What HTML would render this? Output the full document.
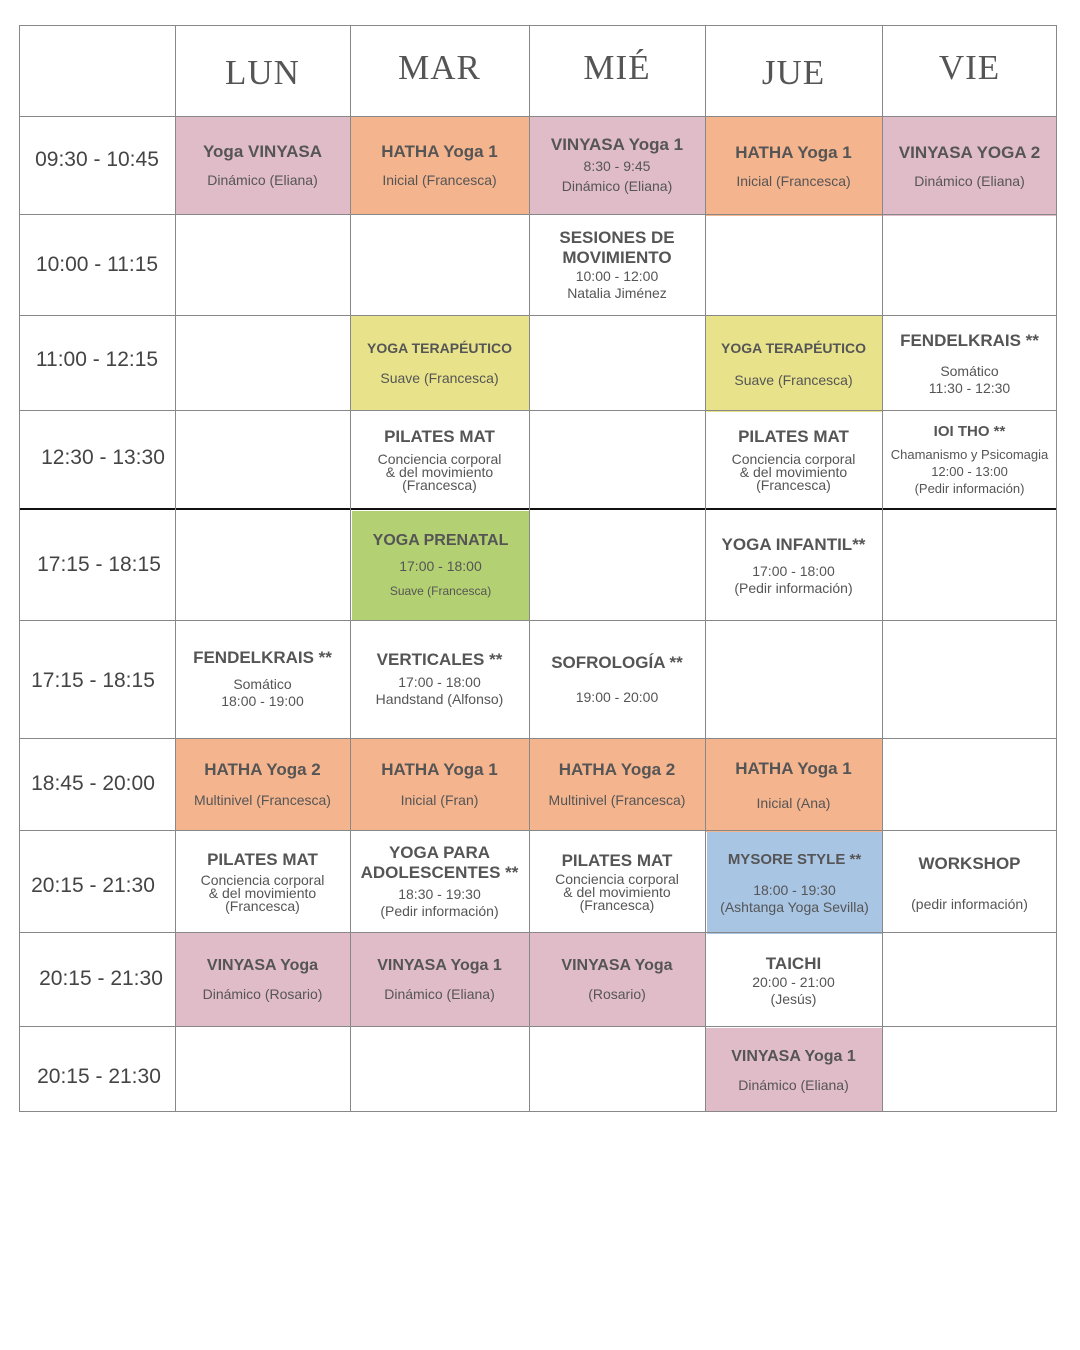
<!DOCTYPE html>
<html><head><meta charset="utf-8"><style>
body{margin:0;width:1080px;height:1350px;background:#fff;position:relative;font-family:"Liberation Sans",sans-serif;color:#555;overflow:hidden}
.c{position:absolute;display:flex;flex-direction:column;align-items:center;justify-content:center;text-align:center;box-sizing:border-box}
.h{font-family:"Liberation Serif",serif;font-size:35px;color:#555;letter-spacing:1px}
.t{font-size:21px;color:#444}
b{font-size:17px;color:#555;display:block;line-height:20px}
s{text-decoration:none;font-size:14px;display:block;line-height:17px}
.k{font-size:14px;line-height:13px;display:block}
.hl{position:absolute;left:19px;width:1038px;height:1px;background:#888}
.vl{position:absolute;top:25px;height:1087px;width:1px;background:#888}
.p{background:#e0bcc9}.o{background:#f4b48e}.y{background:#e8e38a}.g{background:#b3d072}.bl{background:#a9c5e4}
</style></head><body>
<div class="c p" style="left:175px;top:116px;width:175px;height:98px"><b>Yoga VINYASA</b><s style="margin-top:10px">Dinámico (Eliana)</s></div>
<div class="c o" style="left:350px;top:116px;width:179px;height:98px"><b>HATHA Yoga 1</b><s style="margin-top:10px">Inicial (Francesca)</s></div>
<div class="c p" style="left:529px;top:116px;width:176px;height:98px"><b>VINYASA Yoga 1</b><s style="margin-top:3px">8:30 - 9:45</s><s style="margin-top:3px">Dinámico (Eliana)</s></div>
<div class="c o" style="left:705px;top:116px;width:177px;height:100px"><b>HATHA Yoga 1</b><s style="margin-top:10px">Inicial (Francesca)</s></div>
<div class="c p" style="left:882px;top:116px;width:175px;height:100px"><b>VINYASA YOGA 2</b><s style="margin-top:10px">Dinámico (Eliana)</s></div>

<div class="c" style="left:529px;top:214px;width:176px;height:101px"><b>SESIONES DE<br>MOVIMIENTO</b><s>10:00 - 12:00</s><s>Natalia Jiménez</s></div>

<div class="c y" style="left:350px;top:315px;width:179px;height:95px"><b style="font-size:14px">YOGA TERAPÉUTICO</b><s style="margin-top:12px">Suave (Francesca)</s></div>
<div class="c y" style="left:705px;top:315px;width:177px;height:97px"><b style="font-size:14px">YOGA TERAPÉUTICO</b><s style="margin-top:14px">Suave (Francesca)</s></div>
<div class="c" style="left:882px;top:315px;width:175px;height:97px"><b>FENDELKRAIS **</b><s style="margin-top:12px">Somático</s><s>11:30 - 12:30</s></div>

<div class="c" style="left:350px;top:410px;width:179px;height:99px"><b>PILATES MAT</b><span class="k" style="margin-top:6px">Conciencia corporal<br>&amp; del movimiento<br>(Francesca)</span></div>
<div class="c" style="left:705px;top:410px;width:177px;height:99px"><b>PILATES MAT</b><span class="k" style="margin-top:6px">Conciencia corporal<br>&amp; del movimiento<br>(Francesca)</span></div>
<div class="c" style="left:882px;top:410px;width:175px;height:99px"><b style="font-size:15px">IOI THO **</b><s style="font-size:13px;margin-top:4px">Chamanismo y Psicomagia</s><s style="font-size:13px">12:00 - 13:00</s><s style="font-size:13px">(Pedir información)</s></div>

<div class="c g" style="left:352px;top:511px;width:177px;height:109px"><b style="font-size:16px">YOGA PRENATAL</b><s style="margin-top:7px">17:00 - 18:00</s><s style="font-size:12px;margin-top:8px">Suave (Francesca)</s></div>
<div class="c" style="left:705px;top:511px;width:177px;height:109px"><b>YOGA INFANTIL**</b><s style="margin-top:8px">17:00 - 18:00</s><s>(Pedir información)</s></div>

<div class="c" style="left:175px;top:620px;width:175px;height:118px"><b>FENDELKRAIS **</b><s style="margin-top:8px">Somático</s><s>18:00 - 19:00</s></div>
<div class="c" style="left:350px;top:620px;width:179px;height:118px"><b>VERTICALES **</b><s style="margin-top:4px">17:00 - 18:00</s><s>Handstand (Alfonso)</s></div>
<div class="c" style="left:529px;top:620px;width:176px;height:118px"><b>SOFROLOGÍA **</b><s style="margin-top:16px">19:00 - 20:00</s></div>

<div class="c o" style="left:175px;top:738px;width:175px;height:92px"><b>HATHA Yoga 2</b><s style="margin-top:12px">Multinivel (Francesca)</s></div>
<div class="c o" style="left:350px;top:738px;width:179px;height:92px"><b>HATHA Yoga 1</b><s style="margin-top:12px">Inicial (Fran)</s></div>
<div class="c o" style="left:529px;top:738px;width:176px;height:92px"><b>HATHA Yoga 2</b><s style="margin-top:12px">Multinivel (Francesca)</s></div>
<div class="c o" style="left:705px;top:738px;width:177px;height:94px"><b>HATHA Yoga 1</b><s style="margin-top:16px">Inicial (Ana)</s></div>

<div class="c" style="left:175px;top:830px;width:175px;height:102px"><b>PILATES MAT</b><span class="k" style="margin-top:4px">Conciencia corporal<br>&amp; del movimiento<br>(Francesca)</span></div>
<div class="c" style="left:350px;top:830px;width:179px;height:102px"><b>YOGA PARA<br>ADOLESCENTES **</b><s style="margin-top:3px">18:30 - 19:30</s><s>(Pedir información)</s></div>
<div class="c" style="left:529px;top:830px;width:176px;height:102px"><b>PILATES MAT</b><span class="k" style="margin-top:2px">Conciencia corporal<br>&amp; del movimiento<br>(Francesca)</span></div>
<div class="c bl" style="left:707px;top:832px;width:175px;height:102px"><b style="font-size:15px">MYSORE STYLE **</b><s style="margin-top:12px">18:00 - 19:30</s><s>(Ashtanga Yoga Sevilla)</s></div>
<div class="c" style="left:882px;top:832px;width:175px;height:102px"><b>WORKSHOP</b><s style="margin-top:22px">(pedir información)</s></div>

<div class="c p" style="left:175px;top:932px;width:175px;height:94px"><b style="font-size:16px">VINYASA Yoga</b><s style="margin-top:10px">Dinámico (Rosario)</s></div>
<div class="c p" style="left:350px;top:932px;width:179px;height:94px"><b style="font-size:16px">VINYASA Yoga 1</b><s style="margin-top:10px">Dinámico (Eliana)</s></div>
<div class="c p" style="left:529px;top:932px;width:176px;height:94px"><b style="font-size:16px">VINYASA Yoga</b><s style="margin-top:10px">(Rosario)</s></div>
<div class="c" style="left:705px;top:934px;width:177px;height:94px"><b>TAICHI</b><s>20:00 - 21:00</s><s>(Jesús)</s></div>

<div class="c p" style="left:705px;top:1028px;width:177px;height:84px"><b style="font-size:16px">VINYASA Yoga 1</b><s style="margin-top:10px">Dinámico (Eliana)</s></div>

<div class="c h" style="left:175px;top:25px;width:175px;height:91px;padding-top:4px">LUN</div>
<div class="c h" style="left:350px;top:25px;width:179px;height:85px">MAR</div>
<div class="c h" style="left:529px;top:25px;width:176px;height:85px">MIÉ</div>
<div class="c h" style="left:705px;top:25px;width:177px;height:91px;padding-top:4px">JUE</div>
<div class="c h" style="left:882px;top:25px;width:175px;height:85px">VIE</div>

<div class="c t" style="left:19px;top:116px;width:156px;height:88px">09:30 - 10:45</div>
<div class="c t" style="left:19px;top:214px;width:156px;height:101px">10:00 - 11:15</div>
<div class="c t" style="left:19px;top:315px;width:156px;height:90px">11:00 - 12:15</div>
<div class="c t" style="left:25px;top:410px;width:156px;height:96px">12:30 - 13:30</div>
<div class="c t" style="left:19px;top:509px;width:160px;height:111px">17:15 - 18:15</div>
<div class="c t" style="left:15px;top:620px;width:156px;height:122px">17:15 - 18:15</div>
<div class="c t" style="left:15px;top:738px;width:156px;height:92px">18:45 - 20:00</div>
<div class="c t" style="left:15px;top:830px;width:156px;height:112px">20:15 - 21:30</div>
<div class="c t" style="left:23px;top:932px;width:156px;height:94px">20:15 - 21:30</div>
<div class="c t" style="left:21px;top:1026px;width:156px;height:102px">20:15 - 21:30</div>

<div class="hl" style="top:25px"></div>
<div class="hl" style="top:116px"></div>
<div class="hl" style="top:214px"></div>
<div class="hl" style="top:315px"></div>
<div class="hl" style="top:410px"></div>
<div class="hl" style="top:508px;height:2px;background:#111"></div>
<div class="hl" style="top:620px"></div>
<div class="hl" style="top:738px"></div>
<div class="hl" style="top:830px"></div>
<div class="hl" style="top:932px"></div>
<div class="hl" style="top:1026px"></div>
<div class="hl" style="top:1111px"></div>
<div class="vl" style="left:19px"></div>
<div class="vl" style="left:175px"></div>
<div class="vl" style="left:350px"></div>
<div class="vl" style="left:529px"></div>
<div class="vl" style="left:705px"></div>
<div class="vl" style="left:882px"></div>
<div class="vl" style="left:1056px"></div>
</body></html>
